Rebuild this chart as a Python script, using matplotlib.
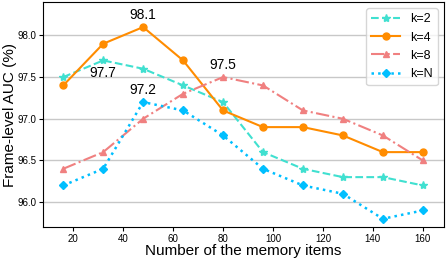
import matplotlib
matplotlib.use("Agg")
import matplotlib.pyplot as plt

plt.rcParams["font.family"] = ["Liberation Sans", "DejaVu Sans"]

memory_items = [16, 32, 48, 64, 80, 96, 112, 128, 144, 160]
auc_k2 = [97.5, 97.7, 97.6, 97.4, 97.2, 96.6, 96.4, 96.3, 96.3, 96.2]
auc_k4 = [97.4, 97.9, 98.1, 97.7, 97.1, 96.9, 96.9, 96.8, 96.6, 96.6]
auc_k8 = [96.4, 96.6, 97.0, 97.3, 97.5, 97.4, 97.1, 97.0, 96.8, 96.5]
auc_kN = [96.2, 96.4, 97.2, 97.1, 96.8, 96.4, 96.2, 96.1, 95.8, 95.9]

fig, ax = plt.subplots(figsize=(4.46, 2.59), dpi=100)
fig.subplots_adjust(left=0.097, right=0.995, top=0.992, bottom=0.123)

ax.plot(memory_items, auc_k2, color="turquoise", linestyle="--", marker="*",
        markersize=6, linewidth=1.5, label="k=2")
ax.plot(memory_items, auc_k4, color="darkorange", linestyle="-", marker="o",
        markersize=5, linewidth=1.5, label="k=4")
ax.plot(memory_items, auc_k8, color="lightcoral", linestyle="-.", marker="^",
        markersize=5, linewidth=1.5, label="k=8")
ax.plot(memory_items, auc_kN, color="deepskyblue", linestyle=":", marker="D",
        markersize=4, linewidth=1.8, label="k=N")

ax.annotate("98.1", (48, 98.1), xytext=(0, 4), textcoords="offset points",
            ha="center", va="bottom", fontsize=10)
ax.annotate("97.7", (32, 97.7), xytext=(0, -4), textcoords="offset points",
            ha="center", va="top", fontsize=10)
ax.annotate("97.2", (48, 97.2), xytext=(0, 4), textcoords="offset points",
            ha="center", va="bottom", fontsize=10)
ax.annotate("97.5", (80, 97.5), xytext=(0, 4), textcoords="offset points",
            ha="center", va="bottom", fontsize=10)

ax.set_xlim(8, 168.4)
ax.set_ylim(95.7, 98.4)
ax.set_yticks([96.0, 96.5, 97.0, 97.5, 98.0])
ax.set_xticks([20, 40, 60, 80, 100, 120, 140, 160])
ax.tick_params(labelsize=7, pad=2, length=3)
ax.grid(True, axis="y", color="#c8c8c8", linewidth=1)
ax.set_axisbelow(True)

ax.set_xlabel("Number of the memory items", fontsize=11, labelpad=0)
ax.set_ylabel("Frame-level AUC (%)", fontsize=11, labelpad=0)

ax.legend(loc="upper right", fontsize=9, handlelength=2.3)

fig.savefig("out.png")
